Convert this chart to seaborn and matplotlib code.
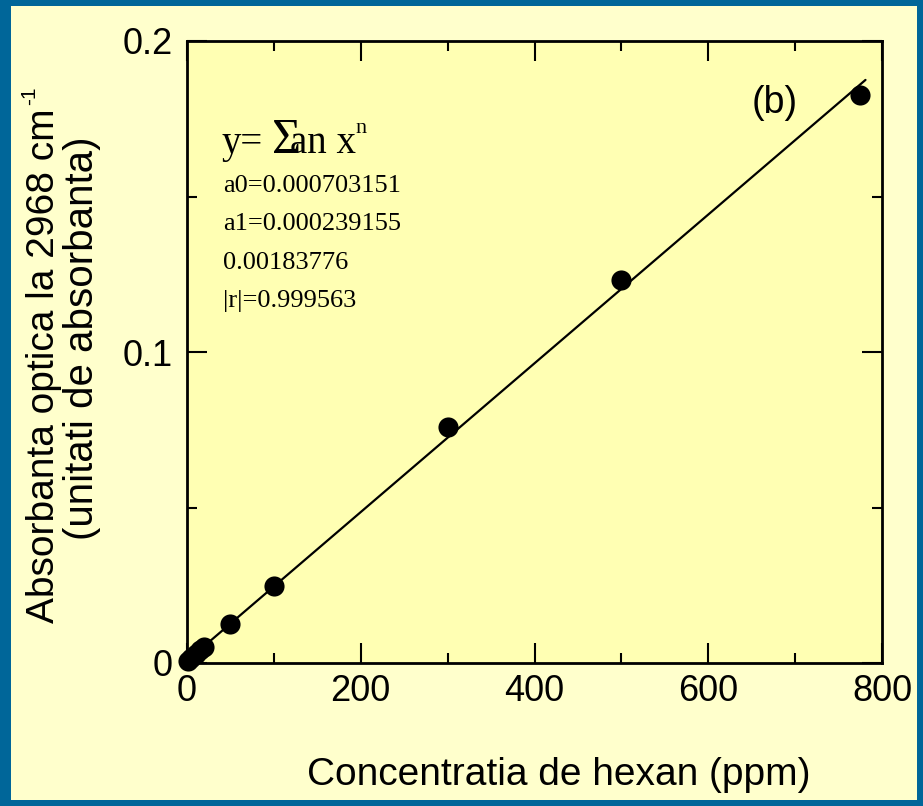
import matplotlib
matplotlib.use("Agg")
import matplotlib.pyplot as plt
import seaborn as sns
import pandas as pd
from matplotlib.patches import Rectangle
from matplotlib.ticker import MultipleLocator

# ---- data ----
conc_ppm = [1, 5, 10, 15, 20, 50, 100, 300, 500, 775]
absorb = [0.0005, 0.0017, 0.0030, 0.0042, 0.0052, 0.0125, 0.0248, 0.0759, 0.1232, 0.1826]
a0 = 0.000703151
a1 = 0.000239155
fit_x = [0, 781]
fit_y = [a0 + a1 * x for x in fit_x]
x_ticks = [0, 200, 400, 600, 800]
y_ticks = [0, 0.1, 0.2]
y_tick_labels = ["0", "0.1", "0.2"]
fit_lines = ["a0=0.000703151", "a1=0.000239155", "0.00183776", "|r|=0.999563"]

df = pd.DataFrame({"x": conc_ppm, "y": absorb})
fit_df = pd.DataFrame({"x": fit_x, "y": fit_y})

sns.set_theme(style="ticks")
plt.rcParams["font.family"] = ["Liberation Sans", "DejaVu Sans"]
for k in ["text.color", "axes.labelcolor", "xtick.color", "ytick.color",
          "xtick.labelcolor", "ytick.labelcolor"]:
    plt.rcParams[k] = "black"

W, H = 923, 806
fig = plt.figure(figsize=(W / 100, H / 100), dpi=100)
fig.patch.set_facecolor("#006699")
fig.add_artist(Rectangle((11 / W, 6 / H), (W - 17) / W, (H - 12) / H,
                         transform=fig.transFigure, facecolor="#FFFFCC",
                         edgecolor="none", zorder=-1))

ax = fig.add_axes([187 / W, 1 - 663 / H, (882 - 187) / W, (663 - 41) / H])
ax.set_facecolor("#FFFFB3")

sns.lineplot(data=fit_df, x="x", y="y", ax=ax, color="black", linewidth=1.6, zorder=2)
sns.scatterplot(data=df, x="x", y="y", ax=ax, color="black", s=210,
                edgecolor="black", linewidth=0, zorder=3, clip_on=False)

ax.set_xlim(0, 800)
ax.set_ylim(0, 0.2)
ax.set_xticks(x_ticks)
ax.set_xticklabels([str(t) for t in x_ticks])
ax.set_yticks(y_ticks)
ax.set_yticklabels(y_tick_labels)
ax.xaxis.set_minor_locator(MultipleLocator(100))
ax.yaxis.set_minor_locator(MultipleLocator(0.05))
ax.tick_params(which="both", direction="in", top=True, right=True,
               width=1.5, color="black")
ax.tick_params(which="major", length=14.4)
ax.tick_params(which="minor", length=7.2)
ax.tick_params(axis="x", which="major", labelsize=26, pad=8)
ax.tick_params(axis="y", which="major", labelsize=26, pad=10.5)
for sp in ax.spines.values():
    sp.set_linewidth(2)
    sp.set_color("black")
    sp.set_visible(True)
ax.set_xlabel("")
ax.set_ylabel("")

fig.text(559 / W, 1 - 775 / H, "Concentratia de hexan (ppm)", fontsize=28,
         ha="center", va="center")
t1 = fig.text(54 / W, 1 - 623 / H, "Absorbanta optica la 2968 cm", fontsize=28,
              rotation=90, rotation_mode="anchor", ha="left", va="baseline")
fig.canvas.draw()
bb = t1.get_window_extent(fig.canvas.get_renderer())
sup_start = bb.y1 + 3  # display pixels from bottom
fig.text(35 / W, sup_start / H, "-1", fontsize=15,
         rotation=90, rotation_mode="anchor", ha="left", va="baseline")
fig.text(93 / W, 1 - 540 / H, "(unitati de absorbanta)", fontsize=29,
         rotation=90, rotation_mode="anchor", ha="left", va="baseline")

fig.text(775 / W, 1 - 103 / H, "(b)", fontsize=27, ha="center", va="center")

serif = ["Liberation Serif", "DejaVu Serif"]
fig.text(222 / W, 1 - 153 / H, "y=", fontsize=28, family=serif, ha="left", va="baseline")
fig.text(272 / W, 1 - 153 / H, "\u03a3", fontsize=36, family=serif, ha="left", va="baseline")
fig.text(290 / W, 1 - 153 / H, "an x", fontsize=28, family=serif, ha="left", va="baseline")
fig.text(355 / W, 1 - 133 / H, "n", fontsize=16, family=serif, ha="left", va="baseline")
for i, line in enumerate(fit_lines):
    fig.text(223 / W, 1 - (192 + 38.5 * i) / H, line, fontsize=19, family=serif,
             ha="left", va="baseline")

fig.savefig("out.png", dpi=100, facecolor=fig.get_facecolor())
